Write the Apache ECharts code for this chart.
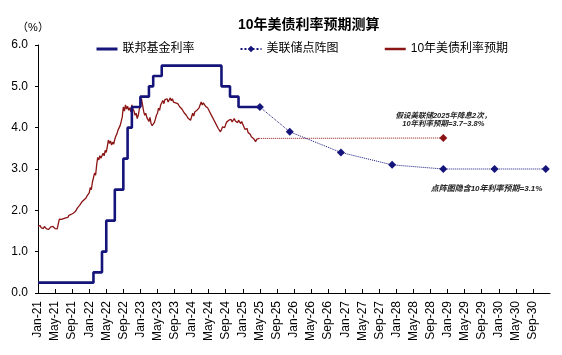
<!DOCTYPE html>
<html>
<head>
<meta charset="utf-8">
<script src="https://cdn.jsdelivr.net/npm/echarts@6/dist/echarts.min.js"></script>
<style>
  html, body { margin: 0; padding: 0; background: #fff; }
  #main { width: 562px; height: 355px; }
</style>
</head>
<body>
<div id="main"></div>
<script>
// x 轴刻度标签（每4个月一个，从 Jan-21 开始）
var tickLabels = ['Jan-21', 'May-21', 'Sep-21', 'Jan-22', 'May-22', 'Sep-22', 'Jan-23', 'May-23', 'Sep-23',
    'Jan-24', 'May-24', 'Sep-24', 'Jan-25', 'May-25', 'Sep-25', 'Jan-26', 'May-26', 'Sep-26',
    'Jan-27', 'May-27', 'Sep-27', 'Jan-28', 'May-28', 'Sep-28', 'Jan-29', 'May-29', 'Sep-29',
    'Jan-30', 'May-30', 'Sep-30'];

// 联邦基金利率上限，按月，从 2021年1月 开始
var fedFunds = [0.25, 0.25, 0.25, 0.25, 0.25, 0.25, 0.25, 0.25, 0.25, 0.25, 0.25, 0.25, 0.25,
    0.5, 0.5, 1.0, 1.75, 1.75, 2.5, 2.5, 3.25, 4.0, 4.5, 4.5, 4.75, 4.75, 5.0, 5.25, 5.25,
    5.5, 5.5, 5.5, 5.5, 5.5, 5.5, 5.5, 5.5, 5.5, 5.5, 5.5, 5.5, 5.5, 5.5,
    5.0, 5.0, 4.75, 4.75, 4.5, 4.5, 4.5, 4.5, 4.5, 4.5];

// 10年美债利率，每月4个观测点，从 2021年1月 开始
var yield10y = [
    1.62, 1.60, 1.63, 1.58, 1.60, 1.56, 1.61, 1.58, 1.55, 1.59, 1.54, 1.57,
    1.60, 1.56, 1.61, 1.58, 1.56, 1.60, 1.55, 1.54, 1.79, 1.81, 1.78, 1.82,
    1.80, 1.84, 1.82, 1.86, 1.83, 1.88, 1.85, 1.90, 1.88, 1.93, 1.90, 1.97,
    2.00, 2.06, 2.03, 2.12, 2.15, 2.20, 2.17, 2.25, 2.22, 2.30, 2.35, 2.32,
    2.42, 2.55, 2.50, 2.68, 2.72, 2.90, 2.85, 3.10, 3.28, 3.22, 3.32, 3.26,
    3.30, 3.38, 3.32, 3.45, 3.40, 3.55, 3.70, 3.62, 3.68, 3.58, 3.65, 3.60,
    3.72, 3.80, 3.85, 3.94, 3.92, 4.05, 4.15, 4.26, 4.50, 4.40, 4.55, 4.45,
    4.52, 4.42, 4.48, 4.38, 4.55, 4.45, 4.40, 4.30, 4.35, 4.22, 4.30, 4.45,
    4.50, 4.70, 4.55, 4.40, 4.30, 4.35, 4.25, 4.20, 4.15, 4.25, 4.10, 4.05,
    4.02, 4.12, 4.20, 4.30, 4.35, 4.47, 4.42, 4.55, 4.60, 4.66, 4.58, 4.68,
    4.64, 4.70, 4.62, 4.67, 4.72, 4.65, 4.70, 4.62, 4.66, 4.60, 4.64, 4.58,
    4.55, 4.50, 4.54, 4.45, 4.42, 4.36, 4.40, 4.30, 4.28, 4.22, 4.25, 4.18,
    4.20, 4.35, 4.28, 4.38, 4.36, 4.42, 4.40, 4.48, 4.50, 4.62, 4.55, 4.60,
    4.58, 4.52, 4.56, 4.48, 4.45, 4.38, 4.34, 4.28, 4.25, 4.18, 4.14, 4.08,
    4.05, 3.98, 3.94, 3.90, 3.95, 4.02, 4.06, 4.00, 4.08, 4.14, 4.10, 4.18,
    4.16, 4.20, 4.14, 4.18, 4.22, 4.16, 4.20, 4.12, 4.18, 4.14, 4.10, 4.15,
    4.08, 4.02, 3.96, 3.94, 3.98, 3.88, 3.92, 3.84, 3.78, 3.82, 3.74, 3.70,
    3.66, 3.72, 3.68, 3.74
];

// 美联储点阵图（月序号，利率）
var dotMonths = [52, 59, 71, 83, 95, 107, 119];
var dotValues = [4.5, 3.9, 3.4, 3.1, 3.0, 3.0, 3.0];

// 10年利率预期延伸
var projMonths = [51.75, 95];
var projValues = [3.74, 3.75];

var FONT = '"Liberation Sans", "Noto Sans CJK SC", sans-serif';
var BLUE = '#14147a', RED = '#8b1414';

var fedData = fedFunds.map(function (v, i) { return [i, v]; });
var yieldData = yield10y.map(function (v, i) { return [i * 0.25, v]; });
var dotData = dotMonths.map(function (m, i) {
    var item = { value: [m, dotValues[i]] };
    if (i == 5) {
        item.label = {
            show: true,
            position: 'bottom',
            distance: 12,
            offset: [-8, 0],
            formatter: '点阵图隐含10年利率预期=3.1%',
            fontSize: 8,
            fontStyle: 'italic',
            fontWeight: 'bold',
            color: '#222',
            fontFamily: FONT
        };
    }
    return item;
});
var projData = projMonths.map(function (m, i) {
    var item = { value: [m, projValues[i]] };
    if (i == 0) {
        item.symbolSize = 0;
    } else {
        item.label = {
            show: true,
            position: 'top',
            distance: 6,
            formatter: '假设美联储2025年降息2次，\n10年利率预期=3.7~3.8%',
            fontSize: 7.5,
            lineHeight: 8,
            fontStyle: 'italic',
            fontWeight: 'bold',
            color: '#222',
            fontFamily: FONT
        };
    }
    return item;
});

var tickVals = tickLabels.map(function (t, i) { return i * 4; });

var myChart = echarts.init(document.getElementById('main'));
var option = {
    animation: false,
    backgroundColor: '#fff',
    textStyle: { fontFamily: FONT },
    title: {
        text: '10年美债利率预期测算',
        left: 238,
        top: 18,
        padding: 0,
        textStyle: { fontSize: 14, fontWeight: 'bold', color: '#000', fontFamily: FONT }
    },
    legend: {
        left: 95,
        top: 43,
        padding: 0,
        itemWidth: 21,
        itemHeight: 8,
        itemGap: 45,
        data: [
            { name: '联邦基金利率', itemStyle: { opacity: 0 }, lineStyle: { width: 3 } },
            { name: '美联储点阵图' },
            { name: '10年美债利率预期', itemStyle: { opacity: 0 }, lineStyle: { width: 2.5 } }
        ],
        textStyle: { fontSize: 12, color: '#000', fontFamily: FONT }
    },
    grid: { left: 38, right: 12, top: 45, bottom: 62, containLabel: false },
    xAxis: {
        type: 'value',
        min: 0,
        max: 120,
        interval: 4,
        splitLine: { show: false },
        axisLine: { lineStyle: { color: '#000', width: 1 } },
        axisTick: { inside: true, length: 4, lineStyle: { color: '#000' }, customValues: tickVals },
        axisLabel: {
            rotate: 90,
            margin: 8,
            fontSize: 12,
            color: '#000',
            fontFamily: FONT,
            customValues: tickVals,
            formatter: function (v) {
                return tickLabels[Math.round(v / 4)] || '';
            }
        }
    },
    yAxis: {
        type: 'value',
        min: 0,
        max: 6,
        interval: 1,
        name: '（%）',
        nameLocation: 'end',
        nameGap: 12,
        nameTextStyle: { fontSize: 11, color: '#000', align: 'center', padding: [0, 10, 0, 0] },
        splitLine: { show: false },
        axisLine: { show: true, lineStyle: { color: '#000', width: 1 } },
        axisTick: { show: true, length: 3, lineStyle: { color: '#000' } },
        axisLabel: {
            margin: 10,
            fontSize: 12,
            color: '#000',
            fontFamily: FONT,
            formatter: function (v) { return v.toFixed(1); }
        }
    },
    series: [
        {
            name: '10年美债利率预期',
            type: 'line',
            data: yieldData,
            symbol: 'none',
            lineStyle: { color: RED, width: 1.3 },
            itemStyle: { color: RED },
            z: 3
        },
        {
            name: '预期延伸',
            type: 'line',
            data: projData,
            symbol: 'diamond',
            symbolSize: 8,
            lineStyle: { color: RED, width: 1, type: 'dotted' },
            itemStyle: { color: RED },
            z: 2
        },
        {
            name: '联邦基金利率',
            type: 'line',
            step: 'end',
            data: fedData,
            symbol: 'none',
            lineStyle: { color: BLUE, width: 2.6 },
            itemStyle: { color: BLUE },
            z: 4
        },
        {
            name: '美联储点阵图',
            type: 'line',
            data: dotData,
            symbol: 'diamond',
            symbolSize: 8,
            lineStyle: { color: BLUE, width: 1, type: 'dotted' },
            itemStyle: { color: BLUE },
            z: 5
        }
    ]
};
myChart.setOption(option);
</script>
</body>
</html>
